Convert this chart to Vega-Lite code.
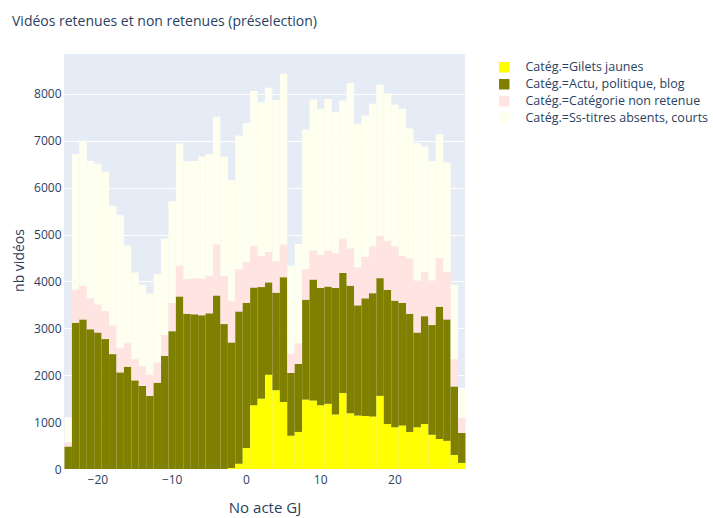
{
  "$schema": "https://vega.github.io/schema/vega-lite/v6.json",
  "width": 401,
  "height": 415,
  "autosize": "none",
  "padding": {"left": 64, "top": 54, "right": 248, "bottom": 49},
  "background": "white",
  "config": {
    "font": "Open Sans",
    "view": {"fill": "#E5ECF6", "stroke": null},
    "axis": {
      "domain": false,
      "ticks": false,
      "labelFont": "Open Sans",
      "labelFontSize": 12,
      "labelColor": "#2a3f5f",
      "titleFont": "Open Sans",
      "titleFontSize": 14,
      "titleFontWeight": "normal",
      "titleColor": "#2a3f5f"
    }
  },
  "title": {
    "text": "Vidéos retenues et non retenues (préselection)",
    "anchor": "start",
    "frame": "group",
    "dx": -52,
    "offset": 25,
    "font": "Open Sans",
    "fontSize": 14,
    "fontWeight": "normal",
    "color": "#2a3f5f"
  },
  "data": {
    "values": [
      {"acte": -24, "cat": "Actu, politique, blog", "n": 480}, {"acte": -24, "cat": "Catégorie non retenue", "n": 90}, {"acte": -24, "cat": "Ss-titres absents, courts", "n": 530},
      {"acte": -23, "cat": "Actu, politique, blog", "n": 3120}, {"acte": -23, "cat": "Catégorie non retenue", "n": 700}, {"acte": -23, "cat": "Ss-titres absents, courts", "n": 2890},
      {"acte": -22, "cat": "Actu, politique, blog", "n": 3190}, {"acte": -22, "cat": "Catégorie non retenue", "n": 720}, {"acte": -22, "cat": "Ss-titres absents, courts", "n": 3090},
      {"acte": -21, "cat": "Actu, politique, blog", "n": 2980}, {"acte": -21, "cat": "Catégorie non retenue", "n": 660}, {"acte": -21, "cat": "Ss-titres absents, courts", "n": 2930},
      {"acte": -20, "cat": "Actu, politique, blog", "n": 2910}, {"acte": -20, "cat": "Catégorie non retenue", "n": 600}, {"acte": -20, "cat": "Ss-titres absents, courts", "n": 3000},
      {"acte": -19, "cat": "Actu, politique, blog", "n": 2770}, {"acte": -19, "cat": "Catégorie non retenue", "n": 600}, {"acte": -19, "cat": "Ss-titres absents, courts", "n": 2970},
      {"acte": -18, "cat": "Actu, politique, blog", "n": 2450}, {"acte": -18, "cat": "Catégorie non retenue", "n": 610}, {"acte": -18, "cat": "Ss-titres absents, courts", "n": 2550},
      {"acte": -17, "cat": "Actu, politique, blog", "n": 2060}, {"acte": -17, "cat": "Catégorie non retenue", "n": 510}, {"acte": -17, "cat": "Ss-titres absents, courts", "n": 2840},
      {"acte": -16, "cat": "Actu, politique, blog", "n": 2180}, {"acte": -16, "cat": "Catégorie non retenue", "n": 500}, {"acte": -16, "cat": "Ss-titres absents, courts", "n": 2080},
      {"acte": -15, "cat": "Actu, politique, blog", "n": 1890}, {"acte": -15, "cat": "Catégorie non retenue", "n": 450}, {"acte": -15, "cat": "Ss-titres absents, courts", "n": 1850},
      {"acte": -14, "cat": "Actu, politique, blog", "n": 1770}, {"acte": -14, "cat": "Catégorie non retenue", "n": 420}, {"acte": -14, "cat": "Ss-titres absents, courts", "n": 1740},
      {"acte": -13, "cat": "Actu, politique, blog", "n": 1560}, {"acte": -13, "cat": "Catégorie non retenue", "n": 450}, {"acte": -13, "cat": "Ss-titres absents, courts", "n": 1730},
      {"acte": -12, "cat": "Actu, politique, blog", "n": 1840}, {"acte": -12, "cat": "Catégorie non retenue", "n": 430}, {"acte": -12, "cat": "Ss-titres absents, courts", "n": 1890},
      {"acte": -11, "cat": "Actu, politique, blog", "n": 2410}, {"acte": -11, "cat": "Catégorie non retenue", "n": 450}, {"acte": -11, "cat": "Ss-titres absents, courts", "n": 2050},
      {"acte": -10, "cat": "Actu, politique, blog", "n": 2940}, {"acte": -10, "cat": "Catégorie non retenue", "n": 600}, {"acte": -10, "cat": "Ss-titres absents, courts", "n": 2170},
      {"acte": -9, "cat": "Actu, politique, blog", "n": 3680}, {"acte": -9, "cat": "Catégorie non retenue", "n": 660}, {"acte": -9, "cat": "Ss-titres absents, courts", "n": 2600},
      {"acte": -8, "cat": "Actu, politique, blog", "n": 3310}, {"acte": -8, "cat": "Catégorie non retenue", "n": 740}, {"acte": -8, "cat": "Ss-titres absents, courts", "n": 2510},
      {"acte": -7, "cat": "Actu, politique, blog", "n": 3300}, {"acte": -7, "cat": "Catégorie non retenue", "n": 770}, {"acte": -7, "cat": "Ss-titres absents, courts", "n": 2500},
      {"acte": -6, "cat": "Actu, politique, blog", "n": 3280}, {"acte": -6, "cat": "Catégorie non retenue", "n": 780}, {"acte": -6, "cat": "Ss-titres absents, courts", "n": 2600},
      {"acte": -5, "cat": "Actu, politique, blog", "n": 3320}, {"acte": -5, "cat": "Catégorie non retenue", "n": 800}, {"acte": -5, "cat": "Ss-titres absents, courts", "n": 2590},
      {"acte": -4, "cat": "Actu, politique, blog", "n": 3700}, {"acte": -4, "cat": "Catégorie non retenue", "n": 1090}, {"acte": -4, "cat": "Ss-titres absents, courts", "n": 2720},
      {"acte": -3, "cat": "Actu, politique, blog", "n": 3090}, {"acte": -3, "cat": "Catégorie non retenue", "n": 1020}, {"acte": -3, "cat": "Ss-titres absents, courts", "n": 2550},
      {"acte": -2, "cat": "Gilets jaunes", "n": 20}, {"acte": -2, "cat": "Actu, politique, blog", "n": 2680}, {"acte": -2, "cat": "Catégorie non retenue", "n": 890}, {"acte": -2, "cat": "Ss-titres absents, courts", "n": 2570},
      {"acte": -1, "cat": "Gilets jaunes", "n": 110}, {"acte": -1, "cat": "Actu, politique, blog", "n": 3250}, {"acte": -1, "cat": "Catégorie non retenue", "n": 900}, {"acte": -1, "cat": "Ss-titres absents, courts", "n": 2850},
      {"acte": 0, "cat": "Gilets jaunes", "n": 450}, {"acte": 0, "cat": "Actu, politique, blog", "n": 3090}, {"acte": 0, "cat": "Catégorie non retenue", "n": 870}, {"acte": 0, "cat": "Ss-titres absents, courts", "n": 2970},
      {"acte": 1, "cat": "Gilets jaunes", "n": 1360}, {"acte": 1, "cat": "Actu, politique, blog", "n": 2510}, {"acte": 1, "cat": "Catégorie non retenue", "n": 890}, {"acte": 1, "cat": "Ss-titres absents, courts", "n": 3300},
      {"acte": 2, "cat": "Gilets jaunes", "n": 1500}, {"acte": 2, "cat": "Actu, politique, blog", "n": 2380}, {"acte": 2, "cat": "Catégorie non retenue", "n": 670}, {"acte": 2, "cat": "Ss-titres absents, courts", "n": 3270},
      {"acte": 3, "cat": "Gilets jaunes", "n": 2010}, {"acte": 3, "cat": "Actu, politique, blog", "n": 1970}, {"acte": 3, "cat": "Catégorie non retenue", "n": 650}, {"acte": 3, "cat": "Ss-titres absents, courts", "n": 3500},
      {"acte": 4, "cat": "Gilets jaunes", "n": 1680}, {"acte": 4, "cat": "Actu, politique, blog", "n": 2080}, {"acte": 4, "cat": "Catégorie non retenue", "n": 670}, {"acte": 4, "cat": "Ss-titres absents, courts", "n": 3440},
      {"acte": 5, "cat": "Gilets jaunes", "n": 1430}, {"acte": 5, "cat": "Actu, politique, blog", "n": 2660}, {"acte": 5, "cat": "Catégorie non retenue", "n": 700}, {"acte": 5, "cat": "Ss-titres absents, courts", "n": 3640},
      {"acte": 6, "cat": "Gilets jaunes", "n": 710}, {"acte": 6, "cat": "Actu, politique, blog", "n": 1340}, {"acte": 6, "cat": "Catégorie non retenue", "n": 410}, {"acte": 6, "cat": "Ss-titres absents, courts", "n": 1880},
      {"acte": 7, "cat": "Gilets jaunes", "n": 790}, {"acte": 7, "cat": "Actu, politique, blog", "n": 1450}, {"acte": 7, "cat": "Catégorie non retenue", "n": 440}, {"acte": 7, "cat": "Ss-titres absents, courts", "n": 2120},
      {"acte": 8, "cat": "Gilets jaunes", "n": 1480}, {"acte": 8, "cat": "Actu, politique, blog", "n": 2130}, {"acte": 8, "cat": "Catégorie non retenue", "n": 650}, {"acte": 8, "cat": "Ss-titres absents, courts", "n": 2980},
      {"acte": 9, "cat": "Gilets jaunes", "n": 1460}, {"acte": 9, "cat": "Actu, politique, blog", "n": 2580}, {"acte": 9, "cat": "Catégorie non retenue", "n": 620}, {"acte": 9, "cat": "Ss-titres absents, courts", "n": 3220},
      {"acte": 10, "cat": "Gilets jaunes", "n": 1360}, {"acte": 10, "cat": "Actu, politique, blog", "n": 2500}, {"acte": 10, "cat": "Catégorie non retenue", "n": 710}, {"acte": 10, "cat": "Ss-titres absents, courts", "n": 3110},
      {"acte": 11, "cat": "Gilets jaunes", "n": 1390}, {"acte": 11, "cat": "Actu, politique, blog", "n": 2500}, {"acte": 11, "cat": "Catégorie non retenue", "n": 770}, {"acte": 11, "cat": "Ss-titres absents, courts", "n": 3230},
      {"acte": 12, "cat": "Gilets jaunes", "n": 1160}, {"acte": 12, "cat": "Actu, politique, blog", "n": 2700}, {"acte": 12, "cat": "Catégorie non retenue", "n": 750}, {"acte": 12, "cat": "Ss-titres absents, courts", "n": 3010},
      {"acte": 13, "cat": "Gilets jaunes", "n": 1620}, {"acte": 13, "cat": "Actu, politique, blog", "n": 2560}, {"acte": 13, "cat": "Catégorie non retenue", "n": 730}, {"acte": 13, "cat": "Ss-titres absents, courts", "n": 2950},
      {"acte": 14, "cat": "Gilets jaunes", "n": 1190}, {"acte": 14, "cat": "Actu, politique, blog", "n": 2720}, {"acte": 14, "cat": "Catégorie non retenue", "n": 790}, {"acte": 14, "cat": "Ss-titres absents, courts", "n": 3530},
      {"acte": 15, "cat": "Gilets jaunes", "n": 1140}, {"acte": 15, "cat": "Actu, politique, blog", "n": 2350}, {"acte": 15, "cat": "Catégorie non retenue", "n": 810}, {"acte": 15, "cat": "Ss-titres absents, courts", "n": 3060},
      {"acte": 16, "cat": "Gilets jaunes", "n": 1130}, {"acte": 16, "cat": "Actu, politique, blog", "n": 2510}, {"acte": 16, "cat": "Catégorie non retenue", "n": 880}, {"acte": 16, "cat": "Ss-titres absents, courts", "n": 3020},
      {"acte": 17, "cat": "Gilets jaunes", "n": 1120}, {"acte": 17, "cat": "Actu, politique, blog", "n": 2630}, {"acte": 17, "cat": "Catégorie non retenue", "n": 1000}, {"acte": 17, "cat": "Ss-titres absents, courts", "n": 3040},
      {"acte": 18, "cat": "Gilets jaunes", "n": 1560}, {"acte": 18, "cat": "Actu, politique, blog", "n": 2510}, {"acte": 18, "cat": "Catégorie non retenue", "n": 910}, {"acte": 18, "cat": "Ss-titres absents, courts", "n": 3220},
      {"acte": 19, "cat": "Gilets jaunes", "n": 960}, {"acte": 19, "cat": "Actu, politique, blog", "n": 2860}, {"acte": 19, "cat": "Catégorie non retenue", "n": 1050}, {"acte": 19, "cat": "Ss-titres absents, courts", "n": 3140},
      {"acte": 20, "cat": "Gilets jaunes", "n": 890}, {"acte": 20, "cat": "Actu, politique, blog", "n": 2700}, {"acte": 20, "cat": "Catégorie non retenue", "n": 1160}, {"acte": 20, "cat": "Ss-titres absents, courts", "n": 3020},
      {"acte": 21, "cat": "Gilets jaunes", "n": 930}, {"acte": 21, "cat": "Actu, politique, blog", "n": 2610}, {"acte": 21, "cat": "Catégorie non retenue", "n": 1000}, {"acte": 21, "cat": "Ss-titres absents, courts", "n": 3140},
      {"acte": 22, "cat": "Gilets jaunes", "n": 790}, {"acte": 22, "cat": "Actu, politique, blog", "n": 2520}, {"acte": 22, "cat": "Catégorie non retenue", "n": 1180}, {"acte": 22, "cat": "Ss-titres absents, courts", "n": 2770},
      {"acte": 23, "cat": "Gilets jaunes", "n": 890}, {"acte": 23, "cat": "Actu, politique, blog", "n": 2020}, {"acte": 23, "cat": "Catégorie non retenue", "n": 1110}, {"acte": 23, "cat": "Ss-titres absents, courts", "n": 2930},
      {"acte": 24, "cat": "Gilets jaunes", "n": 960}, {"acte": 24, "cat": "Actu, politique, blog", "n": 2300}, {"acte": 24, "cat": "Catégorie non retenue", "n": 940}, {"acte": 24, "cat": "Ss-titres absents, courts", "n": 2680},
      {"acte": 25, "cat": "Gilets jaunes", "n": 730}, {"acte": 25, "cat": "Actu, politique, blog", "n": 2340}, {"acte": 25, "cat": "Catégorie non retenue", "n": 950}, {"acte": 25, "cat": "Ss-titres absents, courts", "n": 2550},
      {"acte": 26, "cat": "Gilets jaunes", "n": 640}, {"acte": 26, "cat": "Actu, politique, blog", "n": 2820}, {"acte": 26, "cat": "Catégorie non retenue", "n": 1040}, {"acte": 26, "cat": "Ss-titres absents, courts", "n": 2640},
      {"acte": 27, "cat": "Gilets jaunes", "n": 600}, {"acte": 27, "cat": "Actu, politique, blog", "n": 2590}, {"acte": 27, "cat": "Catégorie non retenue", "n": 1010}, {"acte": 27, "cat": "Ss-titres absents, courts", "n": 2340},
      {"acte": 28, "cat": "Gilets jaunes", "n": 300}, {"acte": 28, "cat": "Actu, politique, blog", "n": 1460}, {"acte": 28, "cat": "Catégorie non retenue", "n": 580}, {"acte": 28, "cat": "Ss-titres absents, courts", "n": 1590},
      {"acte": 29, "cat": "Gilets jaunes", "n": 130}, {"acte": 29, "cat": "Actu, politique, blog", "n": 640}, {"acte": 29, "cat": "Catégorie non retenue", "n": 320}, {"acte": 29, "cat": "Ss-titres absents, courts", "n": 640}
    ]
  },
  "transform": [
    {"calculate": "indexof(['Gilets jaunes', 'Actu, politique, blog', 'Catégorie non retenue', 'Ss-titres absents, courts'], datum.cat)", "as": "rang"}
  ],
  "mark": {"type": "bar", "binSpacing": 0, "strokeWidth": 0},
  "encoding": {
    "x": {
      "field": "acte",
      "type": "quantitative",
      "bin": {"step": 1, "extent": [-24.5, 29.5], "nice": false},
      "axis": {
        "values": [-20, -10, 0, 10, 20],
        "format": "d",
        "grid": false,
        "labelPadding": 5,
        "title": "No acte GJ",
        "titleFontSize": 15,
        "titleBaseline": "middle",
        "titleY": 38
      }
    },
    "y": {
      "aggregate": "sum",
      "field": "n",
      "type": "quantitative",
      "stack": "zero",
      "scale": {"domain": [0, 8850], "nice": false},
      "axis": {
        "values": [0, 1000, 2000, 3000, 4000, 5000, 6000, 7000, 8000],
        "format": "d",
        "grid": true,
        "gridColor": "white",
        "gridWidth": 1,
        "labelPadding": 3,
        "title": "nb vidéos",
        "titleX": -45,
        "titleY": 206,
        "titleAngle": -90,
        "titleAlign": "center",
        "titleBaseline": "middle"
      }
    },
    "order": {"field": "rang", "type": "quantitative", "sort": "ascending"},
    "color": {
      "field": "cat",
      "type": "nominal",
      "sort": ["Gilets jaunes", "Actu, politique, blog", "Catégorie non retenue", "Ss-titres absents, courts"],
      "scale": {
        "domain": ["Gilets jaunes", "Actu, politique, blog", "Catégorie non retenue", "Ss-titres absents, courts"],
        "range": ["#FFFF00", "#808000", "#FFE4E1", "#FFFFF0"]
      },
      "legend": {
        "title": null,
        "orient": "none",
        "legendX": 434,
        "legendY": 7,
        "padding": 0,
        "symbolType": "square",
        "symbolSize": 110,
        "symbolStrokeWidth": 0,
        "symbolOpacity": 1,
        "labelFont": "Open Sans",
        "labelFontSize": 12.5,
        "labelColor": "#2a3f5f",
        "labelOffset": 15,
        "labelLimit": 0,
        "rowPadding": 4,
        "labelExpr": "'Catég.=' + datum.label"
      }
    }
  }
}
